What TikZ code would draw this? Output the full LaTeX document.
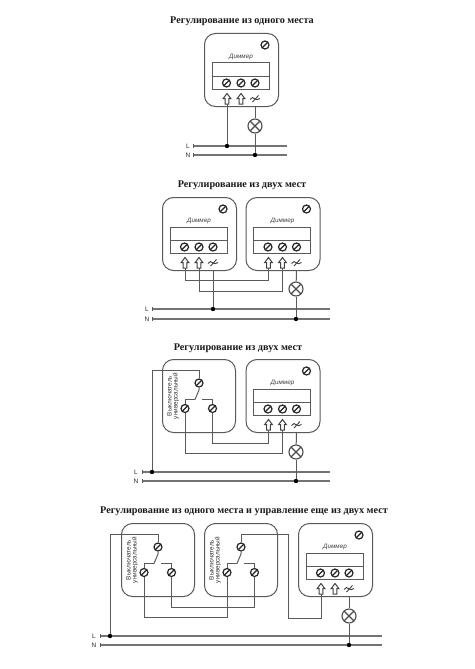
\documentclass[tikz,border=0pt]{standalone}
\usepackage{fontspec}
\setmainfont{Liberation Serif}
\newfontfamily\lblfont{Liberation Sans}
\usetikzlibrary{calc}
\definecolor{wirec}{HTML}{5A5A5A}
\definecolor{boxc}{HTML}{5A5A5A}
\definecolor{textc}{HTML}{1A1A1A}
\tikzset{
  wire/.style={draw=wirec,line width=1pt},
  rail/.style={draw=wirec!85,line width=1.1pt},
  housing/.style={draw=boxc,line width=1pt,rounded corners=11pt},
  panel/.style={draw=boxc,line width=1pt},
  terminal/.style={circle,draw=black!85,fill=white,line width=1.2pt,minimum size=8pt,inner sep=0pt,
    path picture={\draw[black!85,line width=1.3pt] (path picture bounding box.south west)--(path picture bounding box.north east);}},
  lamp/.style={circle,draw=black!70,fill=white,line width=1.1pt,minimum size=14pt,inner sep=0pt,
    path picture={\draw[black!70,line width=1.1pt] (path picture bounding box.south west)--(path picture bounding box.north east)
      (path picture bounding box.north west)--(path picture bounding box.south east);}},
  dot/.style={circle,fill=black,minimum size=4.4pt,inner sep=0pt},
  titletext/.style={inner sep=0pt,text=textc,font=\fontsize{10.2}{12}\selectfont},
  dimlabel/.style={inner sep=0pt,text=black!75,font=\lblfont\itshape\fontsize{6.3}{7}\selectfont},
  swlabel/.style={inner sep=0pt,rotate=90,text=black!80,font=\lblfont\fontsize{6.4}{7}\selectfont},
  raillabel/.style={inner sep=0pt,text=black!85,font=\lblfont\fontsize{6.5}{7}\selectfont},
  upsym/.style={draw=black!75,line width=1pt,line join=miter},
}
% dimmer: name, left, top
\newcommand{\dimmerunit}[3]{%
  \begin{scope}[shift={(#2,#3)}]
    \node[housing,minimum width=74pt,minimum height=73pt,anchor=north west,inner sep=0pt] (#1-box) at (0,0) {};
    \node[terminal] (#1-screw) at (61,12) {};
    \node[dimlabel] (#1-label) at (37,24) {Диммер};
    \draw[panel] (8,30) rectangle (65,56);
    \draw[panel] (8,43) -- (65,43);
    \node[terminal] (#1-t1) at (22.5,50) {};
    \node[terminal] (#1-t2) at (37,50) {};
    \node[terminal] (#1-t3) at (51,50) {};
    \foreach \ax in {23,37}{
      \draw[upsym] (\ax-1.8,71)--(\ax-1.8,65.5)--(\ax-3.8,65.5)--(\ax,60.5)--(\ax+3.8,65.5)--(\ax+1.8,65.5)--(\ax+1.8,71)--cycle;
    }
    \coordinate (#1-a1) at (23,71);
    \coordinate (#1-a2) at (37,71);
    \coordinate (#1-a3) at (51,73);
    \draw[black!75,line width=0.9pt] (46,66.5) .. controls (47.5,64) and (49.5,64) .. (51,66) .. controls (52,67) and (54,67) .. (56,65.5);
    \draw[black!75,line width=0.9pt] (48.5,69) -- (54.5,62.5);
  \end{scope}}
% switch: name, left, top
\newcommand{\switchunit}[3]{%
  \begin{scope}[shift={(#2,#3)}]
    \node[housing,minimum width=73pt,minimum height=73pt,anchor=north west,inner sep=0pt] (#1-box) at (0,0) {};
    \node[swlabel] (#1-l1) at (7.5,37) {Выключатель};
    \node[swlabel] (#1-l2) at (14,37) {универсальный};
    \node[terminal] (#1-top) at (37,24) {};
    \node[terminal] (#1-b1) at (23,49.5) {};
    \node[terminal] (#1-b2) at (50.5,49.5) {};
    \draw[wire] (#1-top.south) -- (37,31) -- (33,40.5);
    \draw[wire] (33,40.5) -| (#1-b1.north);
    \draw[wire] (40,40.5) -| (#1-b2.north);
  \end{scope}}
% rails: suffix, left, right, label x, yL, yN
\newcommand{\railpair}[6]{%
  \node[raillabel] (#1L) at (#4,#5) {L};
  \node[raillabel] (#1N) at (#4,#6) {N};
  \coordinate (#1Ls) at (#2,#5); \coordinate (#1Le) at (#3,#5);
  \coordinate (#1Ns) at (#2,#6); \coordinate (#1Ne) at (#3,#6);
  \draw[rail] (#1Ls) -- (#1Le);
  \draw[rail] (#1Ns) -- (#1Ne);
  \draw[wirec,line width=0.8pt] ($(#1Ls)+(0,-2)$) -- ($(#1Ls)+(0,2)$);
  \draw[wirec,line width=0.8pt] ($(#1Ns)+(0,-2)$) -- ($(#1Ns)+(0,2)$);}
\begin{document}
\begin{tikzpicture}[x=1pt,y=-1pt]
\path[use as bounding box,fill=white] (0,0) rectangle (474,669);

% ---------- 1
\node[titletext] (title1) at (242,21) {\textbf{Регулирование из одного места}};
\dimmerunit{a}{204}{33}
\railpair{a}{193}{287}{188}{146}{155}
\node[lamp] (alamp) at (255,126) {};
\node[dot] (aj1) at (227,146) {};
\node[dot] (aj2) at (255,155) {};
\draw[wire] (a-a1) -- (aj1);
\draw[wire] (a-a3) -- (alamp);
\draw[wire] (alamp) -- (aj2);

% ---------- 2
\node[titletext] (title2) at (242,185) {\textbf{Регулирование из двух мест}};
\dimmerunit{b}{162}{197}
\dimmerunit{c}{245.5}{197}
\railpair{b}{152}{330}{147}{309}{319}
\node[lamp] (blamp) at (296,289) {};
\node[dot] (bj1) at (213,309) {};
\node[dot] (bj2) at (296,319) {};
\coordinate (bw1) at (185,280);
\coordinate (bw2) at (199,291);
\draw[wire] (b-a1) -- (b-a1 |- bw1) -- (c-a1 |- bw1) -- (c-a1);
\draw[wire] (b-a2) -- (b-a2 |- bw2) -- (c-a2 |- bw2) -- (c-a2);
\draw[wire] (b-a3) -- (bj1);
\draw[wire] (c-a3) -- (blamp);
\draw[wire] (blamp) -- (bj2);

% ---------- 3
\node[titletext] (title3) at (238,348) {\textbf{Регулирование из двух мест}};
\switchunit{d}{162}{359}
\dimmerunit{e}{245.5}{359}
\railpair{c}{142}{330}{136}{472}{481}
\node[lamp] (clamp) at (296,452) {};
\node[dot] (cj1) at (152,472) {};
\node[dot] (cj2) at (296,481) {};
\coordinate (cw0) at (152,370);
\coordinate (cw1) at (213,443);
\coordinate (cw2) at (186,453);
\draw[wire] (cj1) -- (cw0) -| (d-top.north);
\draw[wire] (d-b2.south) |- (e-a1 |- cw1) -- (e-a1);
\draw[wire] (d-b1.south) |- (e-a2 |- cw2) -- (e-a2);
\draw[wire] (e-a3) -- (clamp);
\draw[wire] (clamp) -- (cj2);

% ---------- 4
\node[titletext] (title4) at (244,511) {\textbf{Регулирование из одного места и управление еще из двух мест}};
\switchunit{f}{121}{523}
\switchunit{g}{204}{523}
\dimmerunit{h}{298}{523}
\railpair{d}{100}{382}{94}{636}{645}
\node[lamp] (dlamp) at (349,616) {};
\node[dot] (dj1) at (110,636) {};
\node[dot] (dj2) at (349,645) {};
\coordinate (dw0) at (110,534);
\coordinate (dw1) at (171,607);
\coordinate (dw2) at (143,617.5);
\coordinate (dw3) at (288,534);
\coordinate (dw4) at (288,618);
\draw[wire] (dj1) -- (dw0) -| (f-top.north);
\draw[wire] (f-b2.south) |- (g-b2 |- dw1) -- (g-b2.south);
\draw[wire] (f-b1.south) |- (g-b1 |- dw2) -- (g-b1.south);
\draw[wire] (g-top.north) |- (dw3) -- (dw4) -| (h-a1);
\draw[wire] (h-a3) -- (dlamp);
\draw[wire] (dlamp) -- (dj2);
\end{tikzpicture}
\end{document}
